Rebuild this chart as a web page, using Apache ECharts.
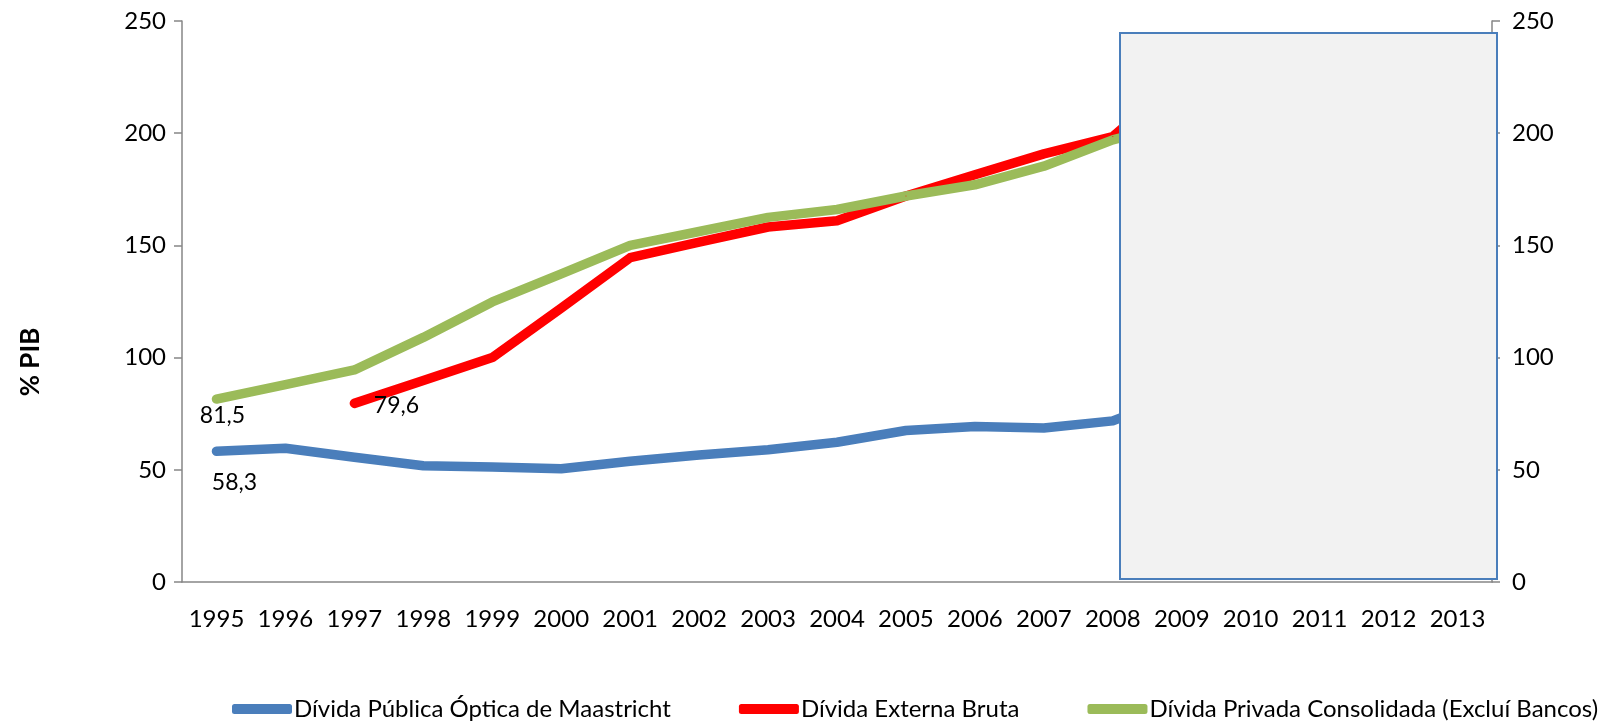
<!DOCTYPE html>
<html>
<head>
<meta charset="utf-8">
<script src="https://cdn.jsdelivr.net/npm/echarts@6/dist/echarts.min.js"></script>
<style>
  html, body { margin: 0; padding: 0; background: #fff; }
  #chart { width: 1616px; height: 721px; }
</style>
</head>
<body>
<div id="chart"></div>
<script>
// anos
var years = ['1995','1996','1997','1998','1999','2000','2001','2002','2003','2004',
             '2005','2006','2007','2008','2009','2010','2011','2012','2013'];

// séries (% PIB) - 2009 fica escondido por baixo do rectângulo
var dividaPublica = [58.3, 59.6, 55.6, 51.8, 51.3, 50.5, 53.8, 56.6, 58.9, 62.3,
                     67.5, 69.3, 68.6, 71.8, 83.6];
var dividaExterna = [null, null, 79.6, 89.8, 100, 122, 144.5, 151.5, 158.2, 161,
                     172, 181.5, 190.8, 198.5, 225];
var dividaPrivada = [81.5, 88, 94.5, 109, 124.8, 137.3, 150, 156.2, 162.5, 166,
                     172, 177, 185.3, 197, 205];

var seriesNames = ['Dívida Pública Óptica de Maastricht', 'Dívida Externa Bruta',
                   'Dívida Privada Consolidada (Excluí Bancos)'];
var yTicks = [0, 50, 100, 150, 200, 250];

var FONT = 'Lato';
var axisGray = '#868686';

var chart = echarts.init(document.getElementById('chart'));

// rótulo só no primeiro ponto de cada série
function firstLabel(arr, pos, offset) {
    var done = false;
    return arr.map(function (v) {
        if (v == null || done) return v;
        done = true;
        return {
            value: v,
            label: {
                show: true, position: pos, offset: offset,
                formatter: function (p) { return String(p.value).replace('.', ','); },
                fontFamily: FONT, fontSize: 23, color: '#000'
            }
        };
    });
}

var yAxisBase = function (pos, margin) {
    return {
        type: 'value', position: pos, min: yTicks[0], max: yTicks[yTicks.length - 1], interval: 50,
        axisLine: { show: true, lineStyle: { color: axisGray, width: 1.5 } },
        axisTick: { show: true, length: 8, lineStyle: { color: axisGray, width: 1.5 } },
        axisLabel: { fontFamily: FONT, fontSize: 24, color: '#000', margin: margin },
        splitLine: { show: false }
    };
};

var lineSeries = function (name, data, color) {
    return {
        name: name, type: 'line', data: data,
        showSymbol: true, symbol: 'circle', symbolSize: 1, color: color,
        itemStyle: { color: color },
        lineStyle: { width: 9.5, color: color, cap: 'round', join: 'round' }
    };
};

chart.setOption({
    animation: false,
    backgroundColor: '#fff',
    grid: { left: 182, right: 124, top: 21, bottom: 139 },
    xAxis: {
        type: 'category', data: years, boundaryGap: true,
        axisLine: { lineStyle: { color: axisGray, width: 1.5 } },
        axisTick: { length: 8, lineStyle: { color: axisGray, width: 1.5 } },
        axisLabel: { fontFamily: FONT, fontSize: 24, color: '#000', margin: 25, interval: 0 }
    },
    yAxis: [yAxisBase('left', 16), yAxisBase('right', 20)],
    legend: {
        bottom: 0, left: 232, width: 1384, padding: 0, itemGap: 68, itemWidth: 60, itemHeight: 10,
        icon: 'roundRect',
        textStyle: { fontFamily: FONT, fontSize: 24, color: '#000', padding: [0, 0, 0, -3] },
        data: seriesNames
    },
    series: [
        lineSeries(seriesNames[0], firstLabel(dividaPublica, 'bottom', [18, 14]), '#4A7EBB'),
        lineSeries(seriesNames[1], firstLabel(dividaExterna, 'right', [14, 2]), '#FF0000'),
        lineSeries(seriesNames[2], firstLabel(dividaPrivada, 'bottom', [6, -1]), '#9BBB59')
    ],
    graphic: [
        {
            type: 'text', x: 31, y: 362, rotation: Math.PI / 2,
            style: { text: '% PIB', fontFamily: FONT, fontSize: 26, fontWeight: 'bold', fill: '#000',
                     align: 'center', verticalAlign: 'middle' }
        },
        {
            type: 'rect', z: 100,
            shape: { x: 1120, y: 33, width: 377, height: 546 },
            style: { fill: '#F2F2F2', stroke: '#4A7EBB', lineWidth: 2 }
        }
    ]
});
</script>
</body>
</html>
